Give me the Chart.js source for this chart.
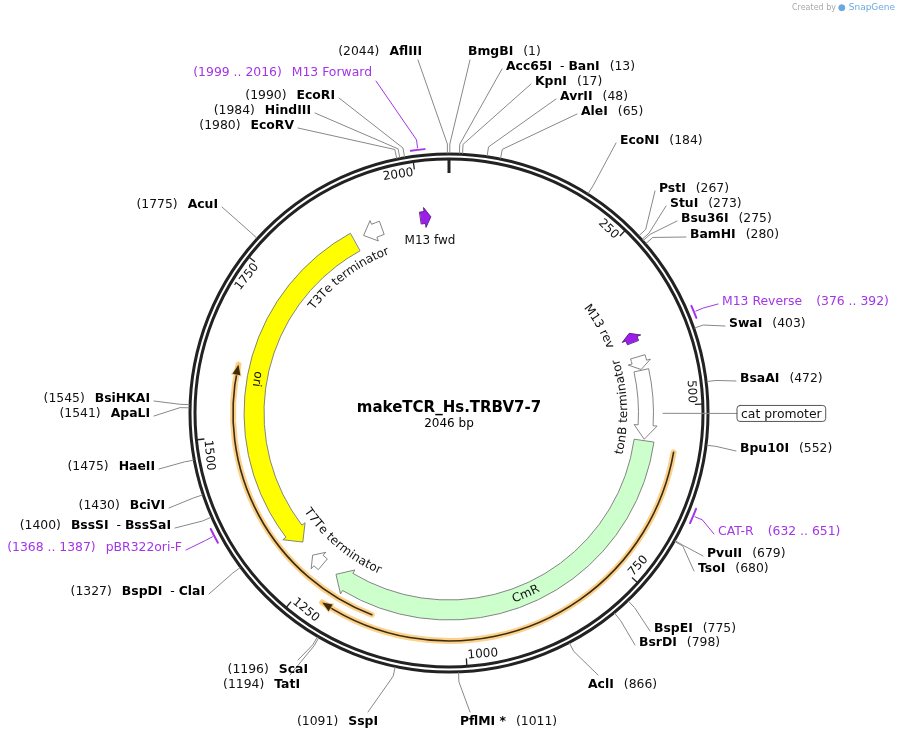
<!DOCTYPE html>
<html>
<head>
<meta charset="utf-8">
<script src="https://cdn.jsdelivr.net/npm/chart.js@4.4.1/dist/chart.umd.min.js"></script>
<style>
  html, body { margin: 0; padding: 0; background: #fff; }
  #wrap { width: 897px; height: 742px; }
</style>
</head>
<body>
<div id="wrap"><canvas id="map" width="897" height="742"></canvas></div>
<script>
var totalBp = 2046;
var plasmidName = "makeTCR_Hs.TRBV7-7";

// restriction sites
var siteNames = ["BmgBI", "Acc65I - BanI", "KpnI", "AvrII", "AleI", "EcoNI", "PstI", "StuI", "Bsu36I", "BamHI",
  "SwaI", "BsaAI", "Bpu10I", "PvuII", "TsoI", "BspEI", "BsrDI", "AclI", "PflMI *",
  "SspI", "TatI", "ScaI", "BspDI - ClaI", "BssSI - BssSaI", "BciVI", "HaeII", "ApaLI", "BsiHKAI", "AcuI",
  "EcoRV", "HindIII", "EcoRI", "AflIII"];
var sitePositions = [1, 13, 17, 48, 65, 184, 267, 273, 275, 280,
  403, 472, 552, 679, 680, 775, 798, 866, 1011,
  1091, 1194, 1196, 1327, 1400, 1430, 1475, 1541, 1545, 1775,
  1980, 1984, 1990, 2044];

// primers
var primerNames = ["M13 Forward", "M13 Reverse", "CAT-R", "pBR322ori-F"];
var primerStarts = [1999, 376, 632, 1368];
var primerEnds = [2016, 392, 651, 1387];

// features
var featureNames = ["T3Te terminator", "M13 fwd", "M13 rev", "tonB terminator", "tonB terminator", "CmR", "T7Te terminator", "ori"];
var featureStarts = [1900, 1999, 376, 418, 441, 558, 1250, 1299];
var featureEnds = [1932, 2016, 392, 439, 555, 1222, 1272, 1882];
var featureStrands = [-1, 1, -1, 1, 1, 1, 1, -1];

// orange arcs
var arcStarts = [1142, 568];
var arcEnds = [1608, 1215];

var tickValues = [250, 500, 750, 1000, 1250, 1500, 1750, 2000];
var promoterName = "cat promoter";
var promoterPos = 512;

// ---- layout (not data) ----
var CX = 449, CY = 413, RING = 259;
var siteLabelXY = [[468,52],[506,67],[535,82],[560,97],[581,112],[620,141],[659,189],[670,204],[681,219],[690,235],
  [729,324],[740,379],[740,449],[707,554],[698,569],[654,629],[639,643],[588,685],[460,722],
  [378,722],[300,685],[308,670],[205,592],[171,526],[165,506],[155,467],[150,414],[150,399],[218,205],
  [294,126],[311,111],[335,96],[422,52]];
var primerLabelXY = [[372,73,"L"],[722,302,"R"],[718,532,"R"],[182,548,"L"]];
var featureStyle = [
  {fill:"#ffffff", r:197, w:14},
  {fill:"#9b1fe8", r:197, w:12},
  {fill:"#9b1fe8", r:197, w:12},
  {fill:"#ffffff", r:197, w:15},
  {fill:"#ffffff", r:197, w:15},
  {fill:"#ccffcc", r:197, w:20},
  {fill:"#ffffff", r:197, w:14},
  {fill:"#ffff00", r:195, w:20}
];
var featureLabel = [
  {t:"T3Te terminator", a:323, r:173, flip:false},
  null, {t:"M13 rev", a:60, r:174, flip:false},
  {t:"tonB terminator", a:88, r:175, flip:true},
  null,
  {t:"CmR", a:157, r:197, flip:true},
  {t:"T7Te terminator", a:220, r:172, flip:true},
  {t:"ori", a:280, r:195, flip:true}
];
var arcRadii = [216, 228];
var PURPLE = "#a335e6";
var FONT = "'DejaVu Sans', Verdana, sans-serif";
var FS = "12.4px ";

function ang(bp) { return bp / totalBp * Math.PI * 2; }

var mapPlugin = {
  id: "plasmidMap",
  afterDraw: function (chart) {
    var ctx = chart.ctx, sx = chart.scales.x, sy = chart.scales.y;
    var cx = sx.getPixelForValue(CX), cy = sy.getPixelForValue(CY);
    var k = sx.getPixelForValue(CX + 1) - cx;
    function pt(a, r) { return [cx + r * k * Math.sin(a), cy - r * k * Math.cos(a)]; }
    function P(x, y) { return [sx.getPixelForValue(x), sy.getPixelForValue(y)]; }
    function arcPath(a0, a1, r, ccw) { ctx.arc(cx, cy, r * k, a0 - Math.PI / 2, a1 - Math.PI / 2, ccw); }

    ctx.save();
    ctx.font = "8px " + FONT; ctx.fillStyle = "#aaa"; ctx.textAlign = "right"; ctx.textBaseline = "middle";
    ctx.fillText("Created by", 836, 8);
    ctx.fillStyle = "#6aa9e0"; ctx.font = "9px " + FONT; ctx.textAlign = "left";
    ctx.fillText("\u25CF SnapGene", 838, 8);

    // backbone
    ctx.strokeStyle = "#222"; ctx.lineWidth = 3;
    ctx.beginPath(); ctx.arc(cx, cy, RING * k, 0, Math.PI * 2); ctx.stroke();
    ctx.beginPath(); ctx.arc(cx, cy, (RING - 5) * k, 0, Math.PI * 2); ctx.stroke();

    // ticks
    ctx.lineWidth = 3; ctx.beginPath();
    var t0 = pt(0, RING - 6), t1 = pt(0, RING - 19);
    ctx.moveTo(t0[0], t0[1]); ctx.lineTo(t1[0], t1[1]); ctx.stroke();
    ctx.font = "12px " + FONT; ctx.fillStyle = "#111";
    tickValues.forEach(function (v) {
      var a = ang(v);
      var p0 = pt(a, RING - 6), p1 = pt(a, RING - 13);
      ctx.lineWidth = 1.3; ctx.strokeStyle = "#222";
      ctx.beginPath(); ctx.moveTo(p0[0], p0[1]); ctx.lineTo(p1[0], p1[1]); ctx.stroke();
      var rot = a, flipped = false;
      while (rot > Math.PI / 2 + 0.01) { rot -= Math.PI; flipped = !flipped; }
      var pc = pt(a - 0.006, RING - 17);
      ctx.save(); ctx.translate(pc[0], pc[1]); ctx.rotate(rot);
      ctx.textAlign = flipped ? "left" : "right"; ctx.textBaseline = flipped ? "bottom" : "top";
      ctx.fillText(String(v), 0, flipped ? 7 : -7);
      ctx.restore();
    });

    // orange arcs
    arcStarts.forEach(function (s, i) {
      var r = arcRadii[i], a0 = ang(s), a1 = ang(arcEnds[i]);
      ctx.lineCap = "round";
      ctx.strokeStyle = "rgba(250,190,90,0.7)"; ctx.lineWidth = 6;
      ctx.beginPath(); arcPath(a0, a1, r, false); ctx.stroke();
      ctx.strokeStyle = "#3d2c10"; ctx.lineWidth = 1.6;
      ctx.beginPath(); arcPath(a0, a1 - 2 / r, r, false); ctx.stroke();
      var tip = pt(a1, r), b1 = pt(a1 - 10 / r, r - 4), b2 = pt(a1 - 10 / r, r + 4);
      ctx.fillStyle = "#3d2c10"; ctx.strokeStyle = "rgba(250,190,90,0.7)"; ctx.lineWidth = 2;
      ctx.beginPath(); ctx.moveTo(tip[0], tip[1]); ctx.lineTo(b1[0], b1[1]); ctx.lineTo(b2[0], b2[1]); ctx.closePath();
      ctx.stroke(); ctx.fill();
    });

    // features
    featureStarts.forEach(function (s, i) {
      var st = featureStyle[i], r = st.r, hw = st.w / 2;
      var a0 = ang(s), a1 = ang(featureEnds[i]);
      var head = Math.min(14 / r, (a1 - a0) * 0.6);
      ctx.beginPath();
      if (featureStrands[i] > 0) {
        var ab = a1 - head;
        arcPath(a0, ab, r + hw, false);
        var h1 = pt(ab, r + hw + 4), tp = pt(a1, r), h2 = pt(ab, r - hw - 4);
        ctx.lineTo(h1[0], h1[1]); ctx.lineTo(tp[0], tp[1]); ctx.lineTo(h2[0], h2[1]);
        arcPath(ab, a0, r - hw, true);
      } else {
        var ab2 = a0 + head;
        arcPath(a1, ab2, r + hw, true);
        var g1 = pt(ab2, r + hw + 4), tp2 = pt(a0, r), g2 = pt(ab2, r - hw - 4);
        ctx.lineTo(g1[0], g1[1]); ctx.lineTo(tp2[0], tp2[1]); ctx.lineTo(g2[0], g2[1]);
        arcPath(ab2, a1, r - hw, false);
      }
      ctx.closePath();
      ctx.fillStyle = st.fill; ctx.fill();
      ctx.strokeStyle = st.fill === "#9b1fe8" ? "#5a1a80" : "#777"; ctx.lineWidth = 0.9; ctx.stroke();
    });

    function arcText(txt, aDeg, r, flip) {
      ctx.font = "12px " + FONT; ctx.fillStyle = "#111"; ctx.textAlign = "center"; ctx.textBaseline = "middle";
      var w = ctx.measureText(txt).width, span = w / (r * k), ac = aDeg * Math.PI / 180, cum = 0;
      for (var j = 0; j < txt.length; j++) {
        var cw = ctx.measureText(txt[j]).width;
        var a = flip ? ac + span / 2 - (cum + cw / 2) / (r * k) : ac - span / 2 + (cum + cw / 2) / (r * k);
        var p = pt(a, r);
        ctx.save(); ctx.translate(p[0], p[1]); ctx.rotate(flip ? a + Math.PI : a);
        ctx.fillText(txt[j], 0, 0); ctx.restore();
        cum += cw;
      }
    }
    featureLabel.forEach(function (l) { if (l) arcText(l.t, l.a, l.r, l.flip); });
    ctx.font = "12px " + FONT; ctx.textAlign = "center"; ctx.textBaseline = "middle"; ctx.fillStyle = "#111";
    var mf = P(430, 241); ctx.fillText(featureNames[1], mf[0], mf[1]);

    // restriction sites
    ctx.textBaseline = "middle";
    siteNames.forEach(function (nm, i) {
      var a = ang(sitePositions[i]);
      var lx = siteLabelXY[i][0], ly = siteLabelXY[i][1];
      var right = Math.sin(a) >= 0 && sitePositions[i] < 1050;
      var parts = nm.split(" - ");
      var num = "(" + sitePositions[i] + ")";
      ctx.font = "bold " + FS + FONT;
      var wName = 0;
      parts.forEach(function (p) { wName += ctx.measureText(p).width; });
      ctx.font = FS + FONT;
      var wSep = parts.length > 1 ? ctx.measureText("  - ").width : 0;
      var wNum = ctx.measureText(num).width, gap = 10;
      var total = wName + wSep + gap + wNum;
      var x0 = right ? lx : lx - total;
      var q = P(x0, ly);
      var x = q[0];
      if (!right) { ctx.font = FS + FONT; ctx.fillStyle = "#111"; ctx.textAlign = "left"; ctx.fillText(num, x, q[1]); x += wNum + gap; }
      parts.forEach(function (p, j) {
        if (j > 0) { ctx.font = FS + FONT; ctx.fillText("  - ", x, q[1]); x += wSep; }
        ctx.font = "bold " + FS + FONT; ctx.fillStyle = "#000"; ctx.textAlign = "left";
        ctx.fillText(p, x, q[1]); x += ctx.measureText(p).width;
      });
      if (right) { x += gap; ctx.font = FS + FONT; ctx.fillStyle = "#111"; ctx.fillText(num, x, q[1]); }
      var nameStart = right ? q[0] : q[0] + wNum + gap, nameEnd = nameStart + wName + wSep;
      var ex, ey;
      if (ly < 60) { ex = right ? nameStart + 2 : nameEnd - 4; ey = q[1] + 8; }
      else if (ly > 660) { ex = right ? nameStart + 10 : nameEnd - 10; ey = q[1] - 10; }
      else { ex = right ? nameStart - 4 : nameEnd + 4; ey = q[1] + 2; }
      var r0 = pt(a, RING + 1), r1 = pt(a, RING + 10);
      ctx.strokeStyle = "#888"; ctx.lineWidth = 1;
      ctx.beginPath(); ctx.moveTo(r0[0], r0[1]); ctx.lineTo(r1[0], r1[1]); ctx.lineTo(ex, ey); ctx.stroke();
    });

    // primers
    primerNames.forEach(function (nm, i) {
      var a0 = ang(primerStarts[i]), a1 = ang(primerEnds[i]), am = (a0 + a1) / 2;
      ctx.strokeStyle = PURPLE; ctx.lineWidth = 2;
      ctx.beginPath(); arcPath(a0, a1, RING + 6, false); ctx.stroke();
      var L = primerLabelXY[i], q = P(L[0], L[1]);
      var range = "(" + primerStarts[i] + " .. " + primerEnds[i] + ")";
      ctx.font = FS + FONT; ctx.fillStyle = PURPLE; ctx.textBaseline = "middle";
      var wN = ctx.measureText(nm).width, gap = 10;
      var ex;
      if (L[2] === "R") {
        ctx.textAlign = "left"; ctx.fillText(nm, q[0], q[1]); ctx.fillText(range, q[0] + wN + gap + 4, q[1]);
        ex = q[0] - 4;
      } else {
        ctx.textAlign = "right"; ctx.fillText(nm, q[0], q[1]); ctx.fillText(range, q[0] - wN - gap, q[1]);
        ex = q[0] + 4;
      }
      var s0 = pt(am, RING + 8), s1 = pt(am, RING + 16);
      ctx.lineWidth = 1;
      ctx.beginPath(); ctx.moveTo(s0[0], s0[1]); ctx.lineTo(s1[0], s1[1]);
      ctx.lineTo(ex, L[2] === "L" && L[1] < 100 ? q[1] + 8 : q[1] + 2); ctx.stroke();
    });

    // promoter box
    var pa = ang(promoterPos), pi0 = pt(pa, 214), pi1 = pt(pa, RING + 29);
    ctx.strokeStyle = "#888"; ctx.lineWidth = 1;
    ctx.beginPath(); ctx.moveTo(pi0[0], pi0[1]); ctx.lineTo(pi1[0], pi1[1]); ctx.stroke();
    ctx.font = FS + FONT; ctx.textAlign = "left"; ctx.fillStyle = "#111";
    var pw = ctx.measureText(promoterName).width;
    ctx.strokeStyle = "#555";
    ctx.beginPath();
    if (ctx.roundRect) ctx.roundRect(pi1[0], pi1[1] - 8, pw + 8, 16, 3); else ctx.rect(pi1[0], pi1[1] - 8, pw + 8, 16);
    ctx.stroke();
    ctx.fillText(promoterName, pi1[0] + 4, pi1[1] + 1);

    // title
    ctx.textAlign = "center"; ctx.fillStyle = "#000";
    ctx.font = "bold 15px " + FONT; ctx.fillText(plasmidName, cx, cy - 5);
    ctx.font = "12px " + FONT; ctx.fillText(totalBp + " bp", cx, cy + 11);
    ctx.restore();
  }
};

new Chart(document.getElementById("map").getContext("2d"), {
  type: "scatter",
  data: { datasets: [{ data: sitePositions.map(function (p) { return { x: CX + RING * Math.sin(ang(p)), y: CY - RING * Math.cos(ang(p)) }; }), pointRadius: 0 }] },
  options: {
    responsive: false, animation: false,
    layout: { padding: 0 },
    plugins: { legend: { display: false }, tooltip: { enabled: false } },
    scales: {
      x: { type: "linear", min: 0, max: 897, display: false },
      y: { type: "linear", min: 0, max: 742, reverse: true, display: false }
    }
  },
  plugins: [mapPlugin]
});
</script>
</body>
</html>
